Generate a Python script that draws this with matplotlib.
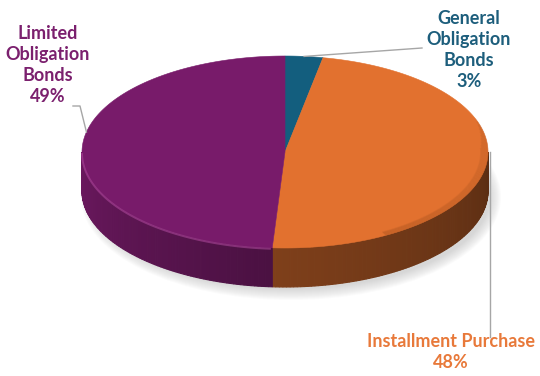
import matplotlib.pyplot as plt
import numpy as np
from matplotlib.patches import Polygon, Ellipse

labels = ["General\nObligation\nBonds", "Installment Purchase", "Limited\nObligation\nBonds"]
shares = [3, 48, 49]
colors = ["#135E7E", "#E2712F", "#781B6A"]
text_colors = ["#1D5E7C", "#E8793A", "#7B206E"]
# side shading (left end, right end) as fraction of the top colour
side_shade = [(0.55, 0.40), (0.56, 0.40), (0.90, 0.62)]

W, H = 540, 376
fig = plt.figure(figsize=(W / 100, H / 100), dpi=100)
ax = fig.add_axes([0, 0, 1, 1])
ax.set_xlim(0, W)
ax.set_ylim(H, 0)
ax.axis("off")

cx, cy, a, b, depth = 285, 152, 203, 96, 39


def pt(theta, dy=0.0):
    t = np.radians(theta)
    return cx + a * np.cos(t), cy - b * np.sin(t) + dy


# soft shadow
for i in range(12):
    ax.add_patch(Ellipse((cx + 6, cy + depth + 6), 2 * a + 14 - i * 2, 2 * b + 14 - i * 2,
                         color="#9a9a9a", alpha=0.035, lw=0, zorder=0))

# slice angles, clockwise from 12 o'clock
total = sum(shares)
bounds = [90.0]
for s in shares:
    bounds.append(bounds[-1] - 360.0 * s / total)

for i, col in enumerate(colors):
    t1, t2 = bounds[i + 1], bounds[i]
    rgb = np.array(plt.matplotlib.colors.to_rgb(col))
    # side wall, only the front half (180..360 degrees)
    lo, hi = t1 % 360, t2 % 360
    if hi <= lo:
        hi += 360
    segs = []
    for start, stop in [(lo, hi), (lo - 360, hi - 360)]:
        s0, s1 = max(start, 180), min(stop, 360)
        if s1 > s0:
            segs.append((s0, s1))
    for s0, s1 in segs:
        ts = np.linspace(s0, s1, max(int(s1 - s0), 2) + 1)
        for k in range(len(ts) - 1):
            f = (ts[k] - s0) / max(s1 - s0, 1e-9)
            sh = side_shade[i][0] + (side_shade[i][1] - side_shade[i][0]) * f
            x0, y0 = pt(ts[k])
            x1, y1 = pt(ts[k + 1])
            quad = [(x0, y0), (x1, y1), (x1, y1 + depth), (x0, y0 + depth)]
            ax.add_patch(Polygon(quad, closed=True, facecolor=rgb * sh,
                                 edgecolor=rgb * sh, lw=0.8, zorder=2))
    # top face
    ts = np.linspace(t1, t2, 200)
    xs, ys = pt(ts)
    verts = [(cx, cy)] + list(zip(xs, ys))
    ax.add_patch(Polygon(verts, closed=True, facecolor=col, edgecolor=col, lw=0.4, zorder=3))

# bevel: light rim along the front of the purple, soft dark rim on the orange
ts = np.linspace(180, 266, 120)
xs, ys = pt(ts)
ax.plot(xs, ys + 1, color="#b24aa0", lw=1.4, alpha=0.55, zorder=4, solid_capstyle="butt")
for k in range(10):
    ts = np.linspace(-60, 20 - k * 2, 160)
    sa, sb = a - k * 0.8, b - k * 0.4
    ax.plot(cx + sa * np.cos(np.radians(ts)), cy - sb * np.sin(np.radians(ts)),
            color="#7a3c16", lw=1.0, alpha=0.08, zorder=4)

# labels and leader lines
font = dict(family="Lato", weight="bold", fontsize=13, ha="center", va="center",
            linespacing=1.3)
ax.text(48, 65, labels[2] + "\n%d%%" % shares[2], color=text_colors[2], **font)
ax.text(469, 50, labels[0] + "\n%d%%" % shares[0], color=text_colors[0], **font)
ax.text(451, 352, labels[1] + "\n%d%%" % shares[1], color=text_colors[1], **font)

lc = dict(color="#a6a6a6", lw=1.0, zorder=5)
x, y = pt(168)
ax.plot([73, 80, x], [106, 106, y], **lc)
x, y = pt((bounds[0] + bounds[1]) / 2)
ax.plot([x, 422], [y, 48], **lc)
x, y = pt(0)
ax.plot([x + 2, x + 2], [y, 337], **lc)

fig.savefig("out.png", dpi=100)
